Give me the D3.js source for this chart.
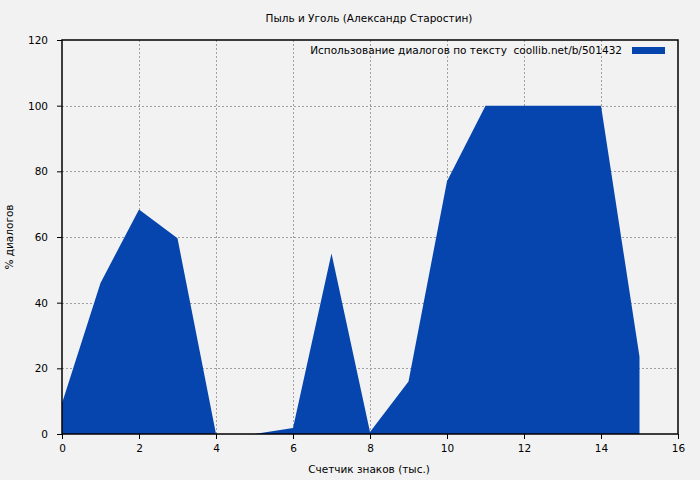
<!DOCTYPE html>
<html>
<head>
<meta charset="utf-8">
<script src="https://cdn.jsdelivr.net/npm/d3@7"></script>
<style>
  body { margin: 0; background: #f2f2f2; }
  svg text { font-family: "DejaVu Sans", sans-serif; font-size: 10.5px; fill: #000; }
</style>
</head>
<body>
<svg id="chart" width="700" height="480"></svg>
<script>
// data
const chartTitle = 'Пыль и Уголь (Александр Старостин)';
const seriesName = 'Использование диалогов по тексту  coollib.net/b/501432';
const xLabel = 'Счетчик знаков (тыс.)';
const yLabel = '% диалогов';
const xValues = [0, 1, 2, 3, 4, 5, 6, 7, 8, 9, 10, 11, 12, 13, 14, 15];
const dialogPct = [9.4, 46, 68.4, 59.6, 0, 0, 1.8, 55, 0.6, 16, 77, 100, 100, 100, 100, 23.5];
const xTicks = [0, 2, 4, 6, 8, 10, 12, 14, 16];
const yTicks = [0, 20, 40, 60, 80, 100, 120];

const margin = { left: 62, right: 22, top: 40, bottom: 46 };
const width = 700, height = 480;

const svg = d3.select('#chart');

const x = d3.scaleLinear().domain([0, 16]).range([margin.left, width - margin.right]);
const y = d3.scaleLinear().domain([0, 120]).range([height - margin.bottom, margin.top]);

// grid
const grid = svg.append('g').attr('class', 'grid')
  .attr('stroke', '#a0a0a0').attr('stroke-width', 1).attr('stroke-dasharray', '2,2');
grid.selectAll('line.gx')
  .data(xTicks.filter(d => d > 0 && d < 16))
  .join('line')
  .attr('x1', d => Math.round(x(d)) + 0.5).attr('x2', d => Math.round(x(d)) + 0.5)
  .attr('y1', y(120)).attr('y2', y(0));
grid.selectAll('line.gy')
  .data(yTicks.filter(d => d > 0 && d < 120))
  .join('line')
  .attr('x1', x(0)).attr('x2', x(16))
  .attr('y1', d => Math.round(y(d)) + 0.5).attr('y2', d => Math.round(y(d)) + 0.5);

// area
const area = d3.area()
  .x((d, i) => x(xValues[i]))
  .y0(y(0))
  .y1(d => y(d));

svg.append('path')
  .datum(dialogPct)
  .attr('fill', '#0645ad')
  .attr('d', area);

// axes
svg.append('g')
  .attr('transform', `translate(0,${y(0)})`)
  .call(d3.axisBottom(x).tickValues(xTicks).tickSize(5).tickPadding(6).tickFormat(d3.format('d')))
  .call(g => g.select('.domain').remove())
  .call(g => g.selectAll('text').style('font-size', '10.5px').style('font-family', '"DejaVu Sans", sans-serif'));

svg.append('g')
  .attr('transform', `translate(${x(0)},0)`)
  .call(d3.axisLeft(y).tickValues(yTicks).tickSize(5).tickPadding(9).tickFormat(d3.format('d')))
  .call(g => g.select('.domain').remove())
  .call(g => g.selectAll('text').style('font-size', '10.5px').style('font-family', '"DejaVu Sans", sans-serif'));

// border
svg.append('rect')
  .attr('x', x(0)).attr('y', y(120))
  .attr('width', x(16) - x(0)).attr('height', y(0) - y(120))
  .attr('fill', 'none').attr('stroke', '#000').attr('stroke-width', 1.5);

// title and labels
svg.append('text')
  .attr('x', 369).attr('y', 22)
  .attr('text-anchor', 'middle')
  .text(chartTitle);

svg.append('text')
  .attr('x', 369).attr('y', 473)
  .attr('text-anchor', 'middle')
  .text(xLabel);

svg.append('text')
  .attr('transform', 'translate(13,237) rotate(-90)')
  .attr('text-anchor', 'middle')
  .text(yLabel);

// legend
svg.append('text')
  .attr('x', 622).attr('y', 54)
  .attr('text-anchor', 'end')
  .style('white-space', 'pre')
  .attr('xml:space', 'preserve')
  .text(seriesName);

svg.append('rect')
  .attr('x', 632).attr('y', 47)
  .attr('width', 33).attr('height', 7)
  .attr('fill', '#0645ad');
</script>
</body>
</html>
